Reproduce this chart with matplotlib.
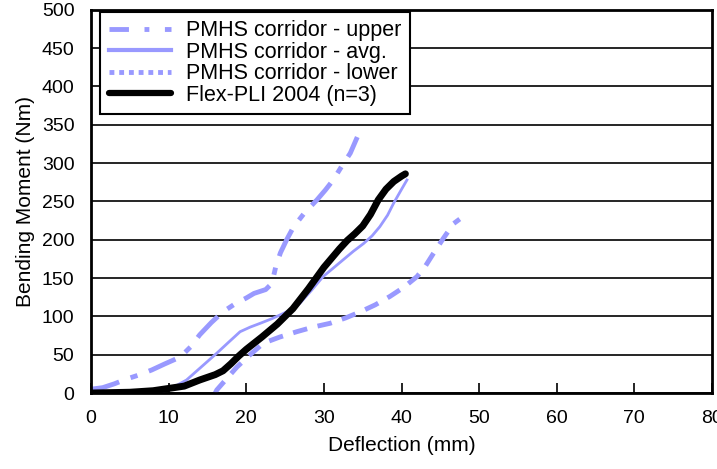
import matplotlib
matplotlib.use("Agg")
import matplotlib.pyplot as plt
from matplotlib.lines import Line2D
import numpy as np

plt.rcParams['font.family'] = ['Liberation Sans', 'DejaVu Sans']

# PMHS corridor - upper
upper_x = [0.0, 1.5, 3.0, 4.5, 6.0, 7.8, 9.5, 11.5, 12.8, 14.0, 15.5, 17.0, 18.5, 20.0, 21.0, 22.5, 23.3, 23.8, 24.4, 25.2, 26.1, 27.5, 29.1, 30.2, 31.2, 32.3, 33.4, 34.3]
upper_y = [5, 7, 12, 18, 23, 30, 38, 47, 60, 76, 92, 106, 116, 124, 130, 135, 143, 165, 183, 200, 217, 235, 252, 265, 278, 296, 313, 334]

# PMHS corridor - avg.
avg_x = [8.9, 10.5, 12.3, 14.2, 16.2, 17.8, 19.2, 20.5, 21.8, 23.3, 24.8, 26.0, 26.9, 28.4, 29.9, 31.2, 32.5, 33.8, 35.1, 36.2, 37.2, 38.2, 39.0, 39.9, 40.7]
avg_y = [0, 7, 17, 34, 52, 67, 80, 86, 91, 97, 104, 110, 117, 134, 152, 163, 174, 185, 195, 205, 217, 232, 248, 264, 278]

# PMHS corridor - lower
lower_x = [16.0, 16.2, 17.5, 18.8, 20.5, 22.2, 24.3, 26.5, 28.6, 30.8, 32.8, 34.7, 36.6, 38.5, 40.3, 42.0, 43.1, 44.1, 45.4, 46.7, 47.5]
lower_y = [0, 4, 19, 34, 50, 65, 73, 80, 86, 91, 98, 106, 115, 126, 138, 152, 166, 182, 202, 221, 227]

# Flex-PLI 2004 (n=3)
flex_x = [0.0, 5.0, 8.0, 10.0, 12.0, 14.0, 16.0, 17.0, 18.0, 19.0, 20.0, 22.0, 24.0, 26.0, 28.0, 29.0, 30.0, 31.0, 32.0, 33.0, 34.0, 35.0, 36.0, 37.0, 38.0, 39.0, 40.0, 40.5]
flex_y = [0, 1, 3, 6, 9, 17, 24, 29, 38, 48, 57, 73, 90, 110, 136, 150, 164, 176, 188, 199, 208, 218, 233, 252, 266, 276, 283, 286]

labels = ['PMHS corridor - upper', 'PMHS corridor - avg.', 'PMHS corridor - lower', 'Flex-PLI 2004 (n=3)']

blue = '#9999ff'

fig = plt.figure(figsize=(7.17, 4.69), dpi=100)
ax = fig.add_axes([0.127, 0.162, 0.866, 0.817])

ax.plot(upper_x, upper_y, color=blue, lw=3.5, dashes=(6, 2.5, 1.5, 2.5))
ax.plot(avg_x, avg_y, color=blue, lw=2)
ax.plot(lower_x, lower_y, color=blue, lw=3.5, dashes=(3, 2.2))
ax.plot(flex_x, flex_y, color='black', lw=5, solid_capstyle='round', solid_joinstyle='round')

ax.set_xlim(0, 80)
ax.set_ylim(0, 500)
ax.set_xticks(np.arange(0, 81, 10))
ax.set_yticks(np.arange(0, 501, 50))
ax.yaxis.grid(True, color='black', lw=1.2)
ax.set_axisbelow(True)
ax.tick_params(axis='x', direction='in', length=7, width=1.2, labelsize=14, pad=12)
ax.tick_params(axis='y', length=0, labelsize=14, pad=12)
for s in ax.spines.values():
    s.set_linewidth(2)

ax.set_xlabel('Deflection (mm)', fontsize=15, labelpad=7)
ax.set_ylabel('Bending Moment (Nm)', fontsize=15, labelpad=5)

# legend handles drawn like the original legend keys
handles = [
    Line2D([], [], color=blue, lw=3.5, dashes=(4, 3.2, 1, 3.2)),
    Line2D([], [], color=blue, lw=3),
    Line2D([], [], color=blue, lw=3.5, dashes=(1, 1)),
    Line2D([], [], color='black', lw=4.5, solid_capstyle='round'),
]
leg = ax.legend(handles, labels, loc='upper left', bbox_to_anchor=(0.0145, 0.995), fontsize=15.5,
                frameon=True, fancybox=False, edgecolor='black', framealpha=1,
                handlelength=2.9, borderpad=0.4, labelspacing=0.02, handletextpad=0.7,
                borderaxespad=0)
leg.get_frame().set_linewidth(1.5)

fig.savefig('out.png', dpi=100)
